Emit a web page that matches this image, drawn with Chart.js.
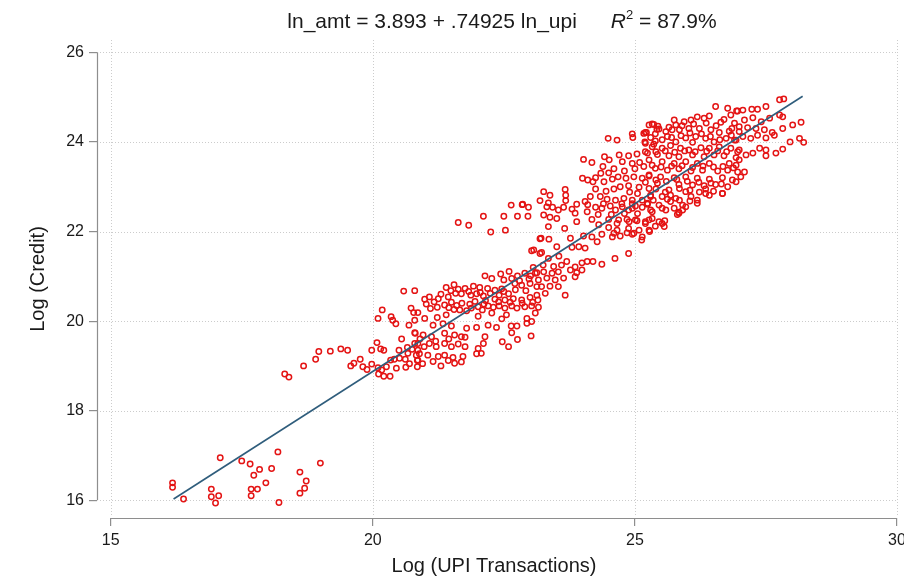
<!DOCTYPE html>
<html><head><meta charset="utf-8">
<script src="https://cdn.jsdelivr.net/npm/chart.js@4/dist/chart.umd.min.js"></script>
<style>html,body{margin:0;padding:0;background:#fff}canvas{display:block}</style>
</head><body>
<canvas id="c" width="904" height="577"></canvas>
<script>
const titleText = "ln_amt = 3.893 + .74925 ln_upi";
const r2Text = " = 87.9%";
const xTitle = "Log (UPI Transactions)";
const yTitle = "Log (Credit)";
const xTicks = [15, 20, 25, 30];
const yTicks = [16, 18, 20, 22, 24, 26];
// fitted line endpoints (ln_upi, fitted ln_amt)
const fitX = [16.2, 28.2];
const fitY = [16.03, 25.02];
// observations: [ln_upi, ln_amt]
const obs = [
[16.18,16.39],[16.18,16.29],[16.39,16.03],[17.09,16.95],[16.92,16.25],[16.92,16.08],[17.06,16.10],[17.00,15.94],[17.50,16.88],[17.66,16.81],[17.84,16.69],[17.73,16.56],[18.07,16.71],[18.19,17.08],[17.96,16.39],[17.68,16.25],[17.80,16.25],[17.68,16.10],[18.21,15.95],[18.61,16.63],[18.73,16.43],[18.70,16.27],[18.61,16.16],[19.00,16.83],
[18.32,18.82],[18.40,18.75],[18.68,19.00],[18.91,19.15],[18.97,19.32],[19.19,19.33],[19.39,19.38],[19.52,19.35],[19.58,19.00],[19.64,19.06],[19.76,19.15],[19.81,18.98],[19.89,18.92],[19.98,19.04],[19.98,19.35],[20.08,19.52],[20.15,19.38],[20.21,19.35],[20.10,20.06],[20.18,20.25],[20.35,20.10],[20.38,20.02],[20.44,19.94],[20.59,20.67],[20.80,20.68],[20.73,20.29],[20.78,20.19],[20.86,20.19],[20.69,19.91],[20.80,20.02],[20.80,19.74],[20.10,18.96],[20.17,18.91],[20.11,18.82],[20.21,18.77],[20.33,18.77],[20.26,18.98],[20.34,19.13],[20.41,19.15],[20.51,19.17],[20.45,18.95],[20.63,18.97],[20.62,19.15],[20.67,19.28],[20.66,19.41],[20.75,19.37],[20.83,19.24],[20.85,19.12],[20.86,19.35],[20.80,19.50],
[22.64,22.59],[22.85,22.60],[22.97,22.54],[22.11,22.34],[22.50,22.34],[22.76,22.34],[22.96,22.34],[21.63,22.20],[21.83,22.14],[22.25,21.99],[22.53,22.03],[23.19,21.84],[23.03,21.57],[23.19,21.51],
[22.14,21.01],[22.27,20.95],[22.44,21.05],[22.60,21.11],[22.50,20.92],[22.65,20.95],[22.76,21.01],[22.90,21.07],[23.01,21.01],[23.13,21.08],[22.71,20.84],[22.84,20.80],[23.00,20.84],[23.13,20.77],[21.40,20.75],[21.55,20.81],[21.49,20.68],[21.63,20.71],[21.76,20.73],[21.92,20.78],[22.04,20.75],[22.19,20.73],[22.33,20.69],[22.46,20.72],[21.69,20.61],[21.87,20.58],[21.98,20.61],[22.11,20.56],[22.41,20.58],[22.59,20.61],[21.44,20.54],[20.99,20.49],[21.08,20.54],[22.33,20.49],[22.52,20.47],[22.68,20.50],[22.84,20.47],[23.00,20.53],[23.15,20.47],
[21.02,20.38],[21.17,20.43],[21.23,20.31],[21.37,20.36],[21.55,20.26],[21.66,20.25],[21.79,20.23],[21.88,20.29],[22.01,20.32],[22.09,20.25],[22.20,20.34],[22.30,20.31],[22.41,20.34],[22.52,20.29],[22.65,20.34],[22.75,20.29],[22.90,20.32],[23.03,20.34],[23.16,20.31],[22.27,20.18],[22.55,20.14],[23.10,20.18],[20.99,20.06],[21.23,20.08],[21.40,20.14],[22.01,20.11],[22.46,20.05],
[21.15,19.91],[21.34,19.94],[21.50,19.89],[21.79,19.84],[21.98,19.86],[22.20,19.91],[22.36,19.86],[22.64,19.89],[22.75,19.89],[22.94,19.95],[22.94,20.06],[23.03,19.99],[20.81,19.73],[20.96,19.69],[21.12,19.65],[21.37,19.73],[21.56,19.69],[21.76,19.64],[22.14,19.65],[22.65,19.74],[22.76,19.59],[22.47,19.54],[22.59,19.43],[23.02,19.67],[20.86,19.50],[20.98,19.43],[21.08,19.50],[21.21,19.43],[21.37,19.50],[21.50,19.43],[21.63,19.49],[21.69,19.65],[21.76,19.43],[22.01,19.39],[22.11,19.50],[22.07,19.28],[21.98,19.27],[21.72,19.21],[21.53,19.19],[21.37,19.24],[21.25,19.21],[21.05,19.24],[20.89,19.27],[20.86,19.13],[20.85,18.98],[21.44,19.12],[21.56,19.06],[21.69,19.09],
[24.49,24.08],[24.66,24.04],[24.95,24.18],[25.17,24.19],[25.20,23.97],[24.02,23.61],[24.18,23.54],[24.42,23.67],[24.51,23.60],[24.70,23.71],[24.88,23.69],[25.04,23.73],[25.24,23.75],[24.76,23.56],[24.95,23.52],[25.09,23.54],[24.39,23.45],[24.50,23.31],[24.00,23.19],[24.10,23.15],[24.20,23.11],[24.41,23.11],[24.57,23.17],[24.68,23.22],[24.83,23.19],[24.98,23.22],[25.14,23.19],[25.27,23.24],[24.72,23.00],[24.88,23.02],[25.08,22.99],[25.27,22.96],[23.67,22.94],[23.26,22.89],[23.38,22.81],[23.68,22.81],[23.19,22.69],[23.68,22.69],[24.15,22.78],[24.34,22.78],[24.47,22.72],[24.63,22.70],[24.79,22.74],[24.95,22.70],[25.14,22.70],[25.30,22.78],
[23.32,22.55],[23.43,22.54],[23.54,22.48],[23.64,22.54],[23.80,22.50],[23.89,22.61],[24.05,22.67],[24.09,22.44],[24.25,22.54],[24.37,22.52],[24.53,22.57],[24.63,22.48],[24.76,22.55],[24.88,22.48],[25.01,22.57],[25.14,22.54],[25.24,22.61],[23.26,22.37],[23.38,22.32],[23.51,22.29],[23.86,22.41],[24.18,22.27],[24.50,22.27],[24.69,22.26],[24.85,22.27],[25.01,22.26],[25.20,22.22],[23.35,22.11],[23.66,22.07],[23.89,22.22],[24.31,22.15],[24.50,22.09],[24.66,22.03],[24.88,22.07],[25.08,22.03],[25.27,22.03],[24.37,21.94],[24.57,21.88],[24.72,21.90],[24.95,21.94],[25.14,21.88],[23.21,21.85],[23.36,21.83],[23.77,21.85],[24.02,21.90],[24.18,21.88],[24.28,21.77],[23.51,21.66],[23.80,21.65],[23.93,21.66],[24.05,21.63],[23.07,21.59],[23.22,21.53],[24.62,21.40],[24.88,21.51],
[23.70,21.33],[23.86,21.21],[23.99,21.30],[24.09,21.33],[24.20,21.33],[24.37,21.27],[23.77,21.14],[23.89,21.08],[23.99,21.14],[23.10,21.07],[23.26,21.10],[23.42,21.07],[23.54,21.10],[23.16,20.92],[23.32,20.96],[23.48,20.92],[23.64,20.96],[23.86,20.99],[23.22,20.77],[23.38,20.78],[23.54,20.77],[23.13,20.58],[23.29,20.62],[23.67,20.58],
[26.54,24.79],[26.77,24.75],[26.96,24.69],[26.83,24.60],[26.42,24.58],[26.32,24.53],[26.19,24.56],[26.07,24.49],[25.94,24.45],[25.75,24.49],[25.78,24.38],[26.64,24.44],[26.90,24.42],[25.27,24.38],[25.36,24.39],[25.46,24.29],[25.59,24.23],[25.71,24.27],[25.85,24.27],[26.03,24.30],[26.23,24.30],[26.45,24.27],[26.61,24.21],[26.80,24.24],[26.99,24.23],[25.20,24.21],[25.62,24.12],[25.97,24.09],[26.16,24.12],[26.35,24.08],[26.74,24.08],[26.93,24.04],[25.39,24.02],[25.78,24.00],[26.10,23.99],[26.51,24.00],
[25.33,23.89],[25.52,23.86],[25.68,23.92],[25.87,23.86],[26.03,23.82],[26.26,23.87],[26.42,23.86],[26.61,23.89],[26.83,23.86],[26.99,23.82],[25.20,23.78],[25.43,23.72],[25.65,23.69],[25.84,23.67],[26.10,23.71],[26.32,23.67],[26.51,23.71],[26.70,23.69],[26.93,23.65],[25.27,23.60],[25.52,23.56],[25.75,23.52],[25.97,23.56],[26.19,23.52],[26.42,23.52],[26.80,23.52],[25.17,23.45],[25.39,23.41],[25.62,23.37],[25.84,23.40],[26.07,23.35],[26.29,23.37],[26.58,23.35],[26.77,23.37],[26.96,23.33],
[25.27,23.26],[25.49,23.22],[25.75,23.20],[25.97,23.22],[26.19,23.19],[26.42,23.17],[26.67,23.20],[26.86,23.15],[25.20,23.10],[25.43,23.08],[25.84,23.05],[26.10,23.04],[26.32,23.02],[26.54,23.05],[26.77,23.00],[25.65,22.93],[25.97,22.89],[26.23,22.88],[26.67,22.85],[25.30,22.81],[25.52,22.78],[25.78,22.74],[26.07,22.78],[26.42,22.81],[25.24,22.63],[25.46,22.59],[25.68,22.67],[25.91,22.59],[26.19,22.63],[25.33,22.44],[25.59,22.48],[25.84,22.43],[25.27,22.26],[25.46,22.22],[25.56,22.11],[25.81,22.38],
[27.76,24.94],[27.84,24.96],[27.50,24.79],[27.34,24.73],[27.23,24.73],[27.06,24.71],[26.94,24.69],[27.76,24.60],[27.82,24.56],[27.57,24.53],[27.41,24.45],[27.25,24.54],[27.09,24.49],[28.01,24.38],[28.17,24.44],[27.82,24.30],[27.62,24.21],[27.47,24.27],[27.31,24.30],[27.15,24.32],[26.99,24.34],[27.66,24.15],[27.50,24.09],[27.34,24.15],[27.21,24.08],[27.06,24.12],[26.90,24.04],[27.96,24.00],[28.14,24.08],[28.22,23.99],[27.38,23.86],[27.50,23.82],[27.69,23.75],[27.82,23.84],[27.25,23.75],[27.12,23.71],[26.96,23.78],[27.50,23.69],[26.99,23.60],[26.93,23.48],[27.09,23.33],[27.02,23.22],[26.93,23.11],
[23.35,22.64],[22.86,22.61],
[25.28,22.00],[25.13,21.81],[24.98,21.96],[24.85,21.97],[24.60,21.96],[25.39,22.12],[25.52,22.18],[25.57,22.24],[25.33,22.29],[25.20,22.18],[25.04,22.24],[24.89,22.22],[24.66,22.18],[25.84,22.41],[25.91,22.48],[25.75,22.52],[25.97,22.55],[25.52,22.52],[25.30,22.48],[24.95,22.52],[26.19,22.70],[26.35,22.85],[26.67,22.85],[25.68,22.81],
[24.96,24.10],[25.22,24.21],[25.33,24.40],[25.42,24.28],[25.39,24.18],[25.19,24.00],[25.36,23.95],
[25.44,24.35],[25.65,24.33],[25.90,24.36],[26.12,24.40],[26.36,24.42],[26.55,24.36],[26.70,24.50],[26.85,24.30],
[25.30,24.10],[25.52,24.05],[25.70,24.10],[25.88,24.14],[26.05,24.20],[26.27,24.18],[26.44,24.12],[26.62,24.05],[26.84,24.15],
[25.40,23.78],[25.58,23.80],[25.76,23.77],[25.95,23.80],[26.15,23.78],[26.37,23.79],[26.58,23.80],[26.75,23.78],
[25.33,23.48],[25.50,23.44],[25.70,23.46],[25.90,23.47],[26.10,23.43],[26.30,23.46],[26.50,23.44],[26.68,23.45],[26.88,23.42],
[25.40,23.15],[25.60,23.12],[25.80,23.16],[26.00,23.12],[26.22,23.10],[26.45,23.08],[26.65,23.06],
[25.40,22.95],[25.58,22.88],[25.85,22.96],[26.05,22.92],[26.35,22.95],[26.50,22.90],
[25.35,22.70],[25.62,22.72],[25.85,22.70],[26.05,22.68],
[24.25,23.20],[24.35,23.30],[24.60,23.40],[24.80,23.35],[25.00,23.40],[24.45,22.90],[24.60,22.95],[24.90,22.88],[25.05,22.85],[24.25,22.95],[24.10,22.60],[24.40,22.62],[24.75,22.62],[24.95,22.62],[24.30,22.38],[24.55,22.38],[24.80,22.40],[25.05,22.40],
[21.30,20.60],[21.58,20.62],[21.83,20.66],[22.05,20.64],[22.24,20.62],[22.50,20.66],[22.72,20.70],[22.92,20.68],[21.25,20.50],[21.50,20.42],[21.70,20.40],[21.95,20.44],[22.15,20.46],[22.40,20.43],[22.62,20.42],[22.85,20.40],[23.05,20.42],[21.10,20.28],[21.45,20.30],[21.60,20.35],[21.85,20.38],[22.12,20.38],
[22.80,20.90],[22.98,20.94],[23.06,21.20],[23.25,21.25],[23.45,21.22],[23.60,21.25],[23.35,21.40],[23.55,21.45],
[20.50,19.35],[20.55,19.60],[20.90,19.60],[21.20,19.55],[21.45,19.60],[20.95,19.05],[21.15,19.10],[21.30,19.00],[20.70,19.05]
];

const FONT = '"Liberation Sans", Arial, Helvetica, sans-serif';
const AXIS_COLOR = '#8e8e8e';
const TEXT_COLOR = '#1a1a1a';

const deco = {
  id: 'deco',
  beforeDatasetsDraw(chart) {
    const {ctx, chartArea: a, scales: {x, y}} = chart;
    ctx.save();
    ctx.strokeStyle = '#cccccc';
    ctx.lineWidth = 1;
    ctx.setLineDash([1, 2]);
    yTicks.forEach(v => {
      const py = Math.round(y.getPixelForValue(v)) + 0.5;
      ctx.beginPath(); ctx.moveTo(a.left + 3, py); ctx.lineTo(a.right, py); ctx.stroke();
    });
    xTicks.forEach(v => {
      const px = Math.round(x.getPixelForValue(v)) + 0.5;
      ctx.beginPath(); ctx.moveTo(px, a.top); ctx.lineTo(px, a.bottom - 2); ctx.stroke();
    });
    ctx.restore();
  },
  afterDraw(chart) {
    const {ctx, chartArea: a, scales: {x, y}} = chart;
    ctx.save();
    ctx.strokeStyle = AXIS_COLOR;
    ctx.lineWidth = 1.2;
    ctx.beginPath();
    ctx.moveTo(x.getPixelForValue(xTicks[0]), a.bottom + 0.5);
    ctx.lineTo(x.getPixelForValue(xTicks[xTicks.length - 1]), a.bottom + 0.5);
    ctx.moveTo(a.left + 0.5, y.getPixelForValue(yTicks[0]));
    ctx.lineTo(a.left + 0.5, y.getPixelForValue(yTicks[yTicks.length - 1]));
    ctx.stroke();

    // axis titles
    ctx.fillStyle = TEXT_COLOR;
    ctx.font = '20px ' + FONT;
    ctx.textAlign = 'center';
    ctx.textBaseline = 'alphabetic';
    ctx.fillText(xTitle, 494, 572);
    ctx.save();
    ctx.translate(44, 279);
    ctx.rotate(-Math.PI / 2);
    ctx.fillText(yTitle, 0, 0);
    ctx.restore();

    // plot title with italic R and superscript 2
    const base = 28;
    ctx.textAlign = 'left';
    ctx.font = '21px ' + FONT;
    const w1 = ctx.measureText(titleText).width;
    const gap = 34;
    ctx.font = 'italic 21px ' + FONT;
    const wR = ctx.measureText('R').width;
    ctx.font = '13px ' + FONT;
    const w2 = ctx.measureText('2').width;
    ctx.font = '21px ' + FONT;
    const w3 = ctx.measureText(r2Text).width;
    const total = w1 + gap + wR + w2 + w3;
    let cx = 502 - total / 2;
    ctx.fillText(titleText, cx, base); cx += w1 + gap;
    ctx.font = 'italic 21px ' + FONT;
    ctx.fillText('R', cx, base); cx += wR;
    ctx.font = '13px ' + FONT;
    ctx.fillText('2', cx, base - 9); cx += w2;
    ctx.font = '21px ' + FONT;
    ctx.fillText(r2Text, cx, base);
    ctx.restore();
  }
};

new Chart(document.getElementById('c'), {
  type: 'scatter',
  data: {
    datasets: [
      {
        type: 'line',
        data: fitX.map((v, i) => ({x: v, y: fitY[i]})),
        borderColor: '#2f5d7c',
        borderWidth: 1.6,
        pointRadius: 0,
        fill: false,
        order: 0
      },
      {
        data: obs.map(p => ({x: p[0], y: p[1]})),
        pointStyle: 'circle',
        pointRadius: 2.7,
        borderWidth: 1.5,
        borderColor: 'rgb(228,20,20)',
        backgroundColor: 'rgba(0,0,0,0)',
        order: 1
      }
    ]
  },
  options: {
    responsive: false,
    animation: false,
    devicePixelRatio: 1,
    layout: {padding: {top: 40, right: 7, left: 0, bottom: 0}},
    plugins: {legend: {display: false}, title: {display: false}, tooltip: {enabled: false}},
    scales: {
      x: {
        type: 'linear',
        min: 14.739, max: 30,
        afterBuildTicks: s => { s.ticks = xTicks.map(v => ({value: v})); },
        afterFit: s => { s.height = 59; s.paddingLeft = 0; s.paddingRight = 0; },
        grid: {display: true, drawOnChartArea: false, drawTicks: true, tickLength: 8, color: AXIS_COLOR, lineWidth: 1.2},
        border: {display: false},
        ticks: {padding: 5, color: TEXT_COLOR, font: {family: FONT, size: 16}, maxRotation: 0, autoSkip: false}
      },
      y: {
        type: 'linear',
        min: 15.605, max: 26.275,
        afterBuildTicks: s => { s.ticks = yTicks.map(v => ({value: v})); },
        afterFit: s => { s.width = 97; s.paddingTop = 0; s.paddingBottom = 0; },
        grid: {display: true, drawOnChartArea: false, drawTicks: true, tickLength: 8, color: AXIS_COLOR, lineWidth: 1.2},
        border: {display: false},
        ticks: {padding: 5, color: TEXT_COLOR, font: {family: FONT, size: 16}, autoSkip: false}
      }
    }
  },
  plugins: [deco]
});
</script>
</body></html>
